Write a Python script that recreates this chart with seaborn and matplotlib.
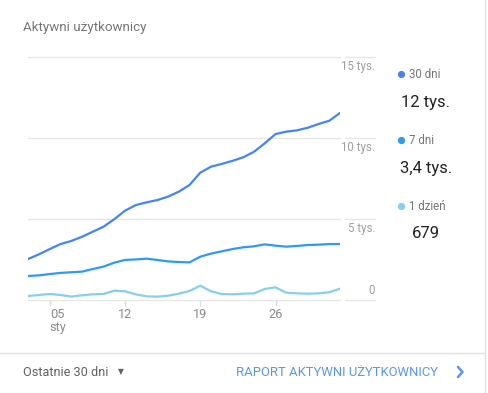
import pandas as pd
import numpy as np
import matplotlib
matplotlib.use("Agg")
import matplotlib.pyplot as plt
import matplotlib.transforms as mtransforms
from matplotlib.lines import Line2D
import seaborn as sns

# dane (3 sty - 1 lut)
days = pd.date_range("2019-01-03", "2019-02-01")
users_30d = [2530, 2820, 3140, 3450, 3640, 3900, 4210, 4520, 4980, 5510,
             5850, 6020, 6160, 6370, 6680, 7090, 7850, 8220, 8390, 8580,
             8800, 9140, 9660, 10230, 10380, 10460, 10620, 10850, 11050, 11530]
users_7d = [1480, 1520, 1600, 1670, 1710, 1750, 1910, 2060, 2300, 2470,
            2500, 2550, 2470, 2380, 2340, 2320, 2670, 2860, 3000, 3140,
            3250, 3310, 3430, 3350, 3290, 3330, 3390, 3410, 3450, 3450]
users_1d = [250, 310, 370, 310, 210, 290, 350, 370, 575, 535,
            350, 225, 205, 265, 390, 555, 885, 535, 370, 350,
            390, 410, 680, 780, 450, 410, 390, 410, 475, 699]

series_names = ["30 dni", "7 dni", "1 dzień"]
series_totals = ["12 tys.", "3,4 tys.", "679"]
series_colors = ["#4285f4", "#2d9af3", "#86cfee"]
y_ticks = [0, 5000, 10000, 15000]
y_tick_labels = ["0", "5 tys.", "10 tys.", "15 tys."]
x_tick_days = pd.to_datetime(["2019-01-05", "2019-01-12", "2019-01-19", "2019-01-26"])
x_tick_labels = ["05\nsty", "12", "19", "26"]

df = pd.DataFrame({
    "data": list(days) * 3,
    "uzytkownicy": users_30d + users_7d + users_1d,
    "zakres": [n for n in series_names for _ in days],
})

sns.set_style("white")
plt.rcParams["font.family"] = ["Roboto", "DejaVu Sans"]

W, H = 489, 393
fig = plt.figure(figsize=(W / 100, H / 100), dpi=100)
fig.patch.set_facecolor("white")

def fx(px):
    return px / W

def fy(py):
    return 1 - py / H

ax = fig.add_axes([fx(28.3), fy(300), fx(340) - fx(28.3), fy(56.7) - fy(300)])
sns.lineplot(data=df, x="data", y="uzytkownicy", hue="zakres", hue_order=series_names,
             palette=series_colors, linewidth=1.6, legend=False, ax=ax, zorder=3)

ax.set_xlim(days[0], days[-1])
ax.set_ylim(0, 15000)
ax.set_xlabel("")
ax.set_ylabel("")
for s in ax.spines.values():
    s.set_visible(False)
ax.set_yticks([])

grid_color = "#e6e6e6"
trans = mtransforms.blended_transform_factory(ax.transAxes, ax.transData)
for v, lab in zip(y_ticks, y_tick_labels):
    ax.plot([0, 1], [v, v], transform=trans, color=grid_color, lw=1, zorder=1, clip_on=False)
    ax.plot([1.016, 1.113], [v, v], transform=trans, color=grid_color, lw=1, zorder=1, clip_on=False)
    if v == 0:
        ax.text(1.113, v + 180, lab, transform=trans, ha="right", va="bottom",
                fontsize=8.3, color="#9e9e9e")
    else:
        ax.text(1.113, v - 200, lab, transform=trans, ha="right", va="top",
                fontsize=8.3, color="#9e9e9e")

ax.set_xticks(x_tick_days)
ax.set_xticklabels(x_tick_labels)
ax.tick_params(axis="x", length=4, width=1, color="#dddddd", labelcolor="#8a8a8a",
               labelsize=9.2, pad=1.5, bottom=True)
first = ax.get_xticklabels()[0]
first.set_horizontalalignment("left")
first.set_multialignment("left")
first.set_linespacing(1.05)

# tytuł
fig.text(fx(23), fy(28), "Aktywni użytkownicy", ha="left", va="center", fontsize=9.6, color="#757575")

# legenda po prawej
legend_rows = [74, 140, 206]
for name, total, col, yy in zip(series_names, series_totals, series_colors, legend_rows):
    fig.add_artist(Line2D([fx(401.5)], [fy(yy)], marker="o", markersize=4.2, color=col, lw=0))
    fig.text(fx(409), fy(yy), name, ha="left", va="center", fontsize=8.3, color="#757575")
    fig.text(fx(426), fy(yy + 28), total, ha="center", va="center", fontsize=12, color="#212121")

# stopka
fig.add_artist(Line2D([0, fx(485)], [fy(353), fy(353)], color="#e0e0e0", lw=1))
fig.add_artist(Line2D([fx(485), fx(485)], [0, 1], color="#e0e0e0", lw=1))
fig.text(fx(23), fy(372), "Ostatnie 30 dni", ha="left", va="center", fontsize=9.2, color="#616161")
fig.text(fx(121), fy(372), "▼", ha="center", va="center", fontsize=5.5, color="#616161",
         family=["DejaVu Sans"])
fig.text(fx(236), fy(372), "RAPORT AKTYWNI UŻYTKOWNICY", ha="left", va="center",
         fontsize=9.4, color="#5a95f5")
fig.add_artist(Line2D([fx(458), fx(462.5), fx(458)], [fy(367), fy(372), fy(377)],
                      color="#5a95f5", lw=1.8))

fig.savefig("out.png", dpi=100, facecolor="white")
